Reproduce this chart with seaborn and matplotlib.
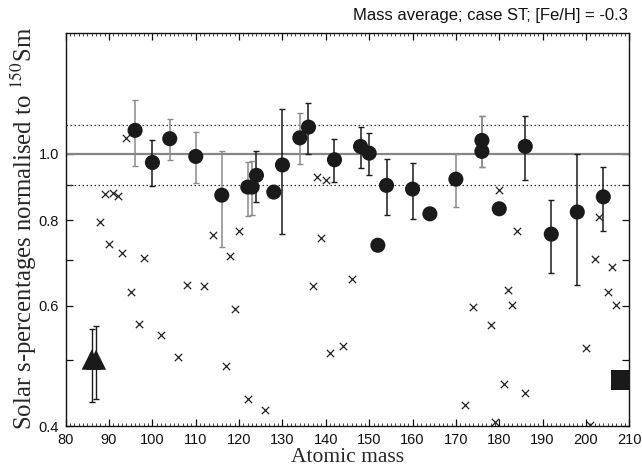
import numpy as np
import pandas as pd
import matplotlib
matplotlib.use("Agg")
import matplotlib.pyplot as plt
import seaborn as sns
from matplotlib.ticker import MultipleLocator, NullLocator

# ---------------- data ----------------
circle_mass = [96, 100, 104, 110, 116, 122, 123, 124, 128, 130, 134, 136, 142, 148, 150,
               152, 154, 160, 164, 170, 176, 176, 180, 186, 192, 198, 204]
circle_val = [1.082, 0.971, 1.052, 0.991, 0.870, 0.894, 0.894, 0.930, 0.879, 0.963, 1.055,
              1.094, 0.980, 1.025, 1.002, 0.735, 0.899, 0.888, 0.817, 0.918, 1.046, 1.008,
              0.831, 1.025, 0.763, 0.822, 0.865]
circle_lo = [0.961, 0.896, 0.980, 0.906, 0.730, 0.812, 0.814, 0.849, 0.879, 0.764, 0.966,
             1.000, 0.910, 0.953, 0.930, 0.735, 0.815, 0.804, 0.817, 0.835, 0.958, 0.958,
             0.831, 0.916, 0.669, 0.643, 0.772]
circle_hi = [1.199, 1.048, 1.125, 1.076, 1.009, 0.974, 0.977, 1.011, 0.879, 1.162, 1.147,
             1.186, 1.051, 1.096, 1.072, 0.735, 0.982, 0.971, 0.817, 1.000, 1.134, 1.134,
             0.831, 1.134, 0.857, 1.000, 0.958]

cross_mass = [88, 89, 90, 91, 92, 93, 94, 95, 97, 98, 102, 106, 108, 112, 114, 117, 118, 119,
              120, 122, 126, 137, 138, 139, 140, 141, 144, 146, 172, 174, 178, 179, 180, 181,
              182, 183, 184, 186, 200, 201, 202, 203, 205, 206, 207]
cross_val = [0.796, 0.873, 0.738, 0.876, 0.868, 0.716, 1.056, 0.628, 0.564, 0.704, 0.543,
             0.504, 0.644, 0.641, 0.761, 0.489, 0.709, 0.594, 0.772, 0.438, 0.422, 0.641,
             0.925, 0.753, 0.914, 0.511, 0.523, 0.656, 0.430, 0.597, 0.562, 0.405, 0.884,
             0.460, 0.632, 0.601, 0.772, 0.447, 0.520, 0.401, 0.702, 0.808, 0.628, 0.683,
             0.602]

tri_mass = [86, 87]
tri_val = [0.500, 0.500]
tri_lo = [0.433, 0.438]
tri_hi = [0.555, 0.561]

sq_mass = [208]
sq_val = [0.467]

ref_lines = [0.9, 1.0, 1.1]
y_ticks = [0.4, 0.5, 0.6, 0.7, 0.8, 0.9, 1.0]
y_labels = ["0.4", "", "0.6", "", "0.8", "", "1.0"]

title_text = "Mass average; case ST; [Fe/H] = -0.3"
xlabel_text = "Atomic mass"
ylabel_text = r"Solar s-percentages normalised to $^{150}$Sm"

# ---------------- style ----------------
sns.set_style("ticks")
plt.rcParams["font.family"] = ["Liberation Sans", "DejaVu Sans"]
plt.rcParams["mathtext.fontset"] = "stix"

grey_bar_masses = {96, 104, 110, 116, 122, 123, 134, 170, 176}

circles = pd.DataFrame({"mass": circle_mass, "val": circle_val, "lo": circle_lo, "hi": circle_hi})
circles["grey"] = circles["mass"].isin(grey_bar_masses)
crosses = pd.DataFrame({"mass": cross_mass, "val": cross_val})
tris = pd.DataFrame({"mass": tri_mass, "val": tri_val, "lo": tri_lo, "hi": tri_hi})
sq = pd.DataFrame({"mass": sq_mass, "val": sq_val})

fig = plt.figure(figsize=(6.42, 4.70), dpi=100)
ax = fig.add_axes([65.7 / 642, 1 - 426 / 470, (629.3 - 65.7) / 642, (426 - 33.3) / 470])

# reference lines
ax.axhline(ref_lines[1], color="#858585", lw=1.6, zorder=1)
for v in (ref_lines[0], ref_lines[2]):
    ax.axhline(v, color="#333333", lw=0.9, ls=(0, (1.2, 2.0)), zorder=1)

# error bars
for is_grey, grp in circles.groupby("grey"):
    ax.errorbar(grp["mass"], grp["val"],
                yerr=[grp["val"] - grp["lo"], grp["hi"] - grp["val"]],
                fmt="none", ecolor="#8a8a8a" if is_grey else "#1a1a1a",
                elinewidth=1.1, capsize=2.5, capthick=1.0, zorder=2)
ax.errorbar(tris["mass"], tris["val"], yerr=[tris["val"] - tris["lo"], tris["hi"] - tris["val"]],
            fmt="none", ecolor="#1a1a1a", elinewidth=1.0, capsize=2.5, capthick=1.0, zorder=2)

# markers
sns.scatterplot(data=crosses, x="mass", y="val", marker="x", s=28, color="#222222",
                linewidth=0.9, ax=ax, zorder=3)
sns.scatterplot(data=circles, x="mass", y="val", marker="o", s=118, color="#1a1a1a",
                edgecolor="none", ax=ax, zorder=4)
sns.scatterplot(data=tris, x="mass", y="val", marker="^", s=210, color="#1a1a1a",
                edgecolor="none", ax=ax, zorder=4)
sns.scatterplot(data=sq, x="mass", y="val", marker="s", s=200, color="#1a1a1a",
                edgecolor="none", ax=ax, zorder=4, clip_on=False)

# axes
ax.set_yscale("log")
ax.set_xlim(80, 210)
ax.set_ylim(0.4, 1.5)
ax.set_yticks(y_ticks)
ax.set_yticklabels(y_labels)
ax.yaxis.set_minor_locator(NullLocator())
ax.xaxis.set_major_locator(MultipleLocator(10))
ax.xaxis.set_minor_locator(MultipleLocator(1))

ax.tick_params(axis="both", which="major", direction="in", length=5, width=0.9,
               top=True, right=True, labelsize=10.5, colors="#111111", pad=5)
ax.tick_params(axis="x", which="minor", direction="in", length=2.2, width=0.6,
               top=True, bottom=True)
for s in ax.spines.values():
    s.set_linewidth(1.0)
    s.set_color("#111111")

ax.set_xlabel(xlabel_text, family=["Liberation Serif", "DejaVu Serif"], fontsize=15.5,
              labelpad=1)
ax.set_ylabel(ylabel_text, family=["Liberation Serif", "DejaVu Serif"], fontsize=17.8)
ax.yaxis.set_label_coords(-0.048, 0.504)

fig.text(628 / 642, 1 - 20 / 470, title_text, ha="right", va="baseline", fontsize=12,
         color="#111111")

fig.savefig("out.png", dpi=100)
